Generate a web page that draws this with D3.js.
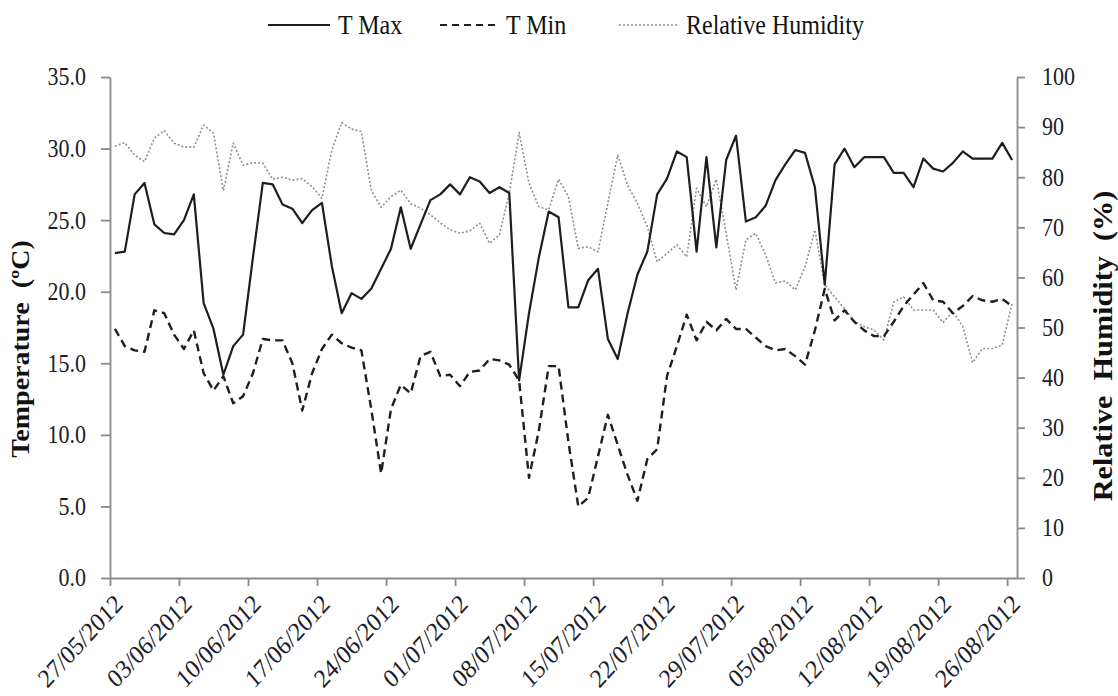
<!DOCTYPE html>
<html>
<head>
<meta charset="utf-8">
<script src="https://cdn.jsdelivr.net/npm/d3@7"></script>
<style>
  html, body { margin: 0; padding: 0; background: #fff; }
  svg text { font-family: "Liberation Serif", "Times New Roman", serif; white-space: pre; }
</style>
</head>
<body>
<svg id="chart" width="1118" height="696"></svg>
<script>
// Daily weather record, 27/05/2012 – 26/08/2012
const startDate = "2012-05-27";
const dayCount = 92;

const tMax = [
  22.7, 22.8, 26.8, 27.6, 24.7, 24.1, 24.0, 25.0, 26.8, 19.2,
  17.4, 14.2, 16.2, 17.0, 22.4, 27.6, 27.5, 26.1, 25.8, 24.8,
  25.7, 26.2, 21.8, 18.5, 19.9, 19.5, 20.2, 21.6, 23.0, 25.9,
  23.0, 24.7, 26.4, 26.8, 27.5, 26.8, 28.0, 27.7, 26.9, 27.3,
  26.9, 13.8, 18.5, 22.4, 25.6, 25.2, 18.9, 18.9, 20.8, 21.6,
  16.7, 15.3, 18.5, 21.2, 22.8, 26.8, 27.9, 29.8, 29.4, 22.8,
  29.4, 23.1, 29.2, 30.9, 24.9, 25.2, 26.0, 27.8, 28.9, 29.9,
  29.7, 27.3, 20.5, 28.9, 30.0, 28.7, 29.4, 29.4, 29.4, 28.3,
  28.3, 27.3, 29.3, 28.6, 28.4, 29.0, 29.8, 29.3, 29.3, 29.3,
  30.4, 29.2
];

const tMin = [
  17.4, 16.2, 15.9, 15.8, 18.7, 18.5, 17.0, 16.0, 17.3, 14.3,
  13.1, 14.1, 12.2, 12.7, 14.3, 16.7, 16.6, 16.6, 15.0, 11.7,
  14.3, 16.0, 17.0, 16.4, 16.1, 15.9, 11.8, 7.3, 11.8, 13.5,
  12.9, 15.5, 15.8, 14.1, 14.2, 13.4, 14.4, 14.5, 15.3, 15.2,
  14.9, 13.8, 7.0, 10.3, 14.8, 14.8, 9.5, 5.0, 5.6, 8.5,
  11.4, 9.3, 7.2, 5.4, 8.3, 9.0, 14.1, 16.2, 18.4, 16.6,
  17.9, 17.3, 18.1, 17.4, 17.4, 16.8, 16.2, 15.9, 16.0, 15.5,
  14.9, 17.3, 20.2, 18.0, 18.7, 17.9, 17.3, 16.9, 16.9, 17.9,
  19.0, 19.8, 20.6, 19.4, 19.3, 18.5, 19.0, 19.7, 19.4, 19.3,
  19.5, 19.0
];

const humidity = [
  86.2, 86.9, 84.4, 83.1, 87.8, 89.3, 86.8, 86.0, 86.0, 90.4,
  88.8, 77.3, 86.8, 82.4, 82.9, 82.8, 79.6, 80.0, 79.4, 79.7,
  78.1, 75.8, 85.4, 90.9, 89.6, 89.1, 77.4, 74.0, 76.1, 77.4,
  74.7, 73.8, 72.5, 70.9, 69.5, 68.8, 69.3, 70.8, 66.8, 68.5,
  76.8, 88.9, 78.8, 74.1, 73.5, 79.6, 76.1, 65.8, 66.1, 65.1,
  74.8, 84.4, 78.4, 74.8, 70.1, 63.1, 64.8, 66.5, 64.1, 77.8,
  74.1, 79.6, 68.8, 57.5, 67.5, 68.8, 64.5, 58.9, 59.3, 57.5,
  62.1, 69.5, 58.5, 56.1, 53.8, 51.2, 50.2, 49.5, 47.5, 55.1,
  56.1, 53.5, 53.5, 53.5, 51.0, 53.2, 50.2, 43.0, 45.8, 45.8,
  46.5, 54.8
];

const tempTicks = [0, 5, 10, 15, 20, 25, 30, 35];
const rhTicks = [0, 10, 20, 30, 40, 50, 60, 70, 80, 90, 100];
const dateTickLabels = [
  "27/05/2012", "03/06/2012", "10/06/2012", "17/06/2012", "24/06/2012",
  "01/07/2012", "08/07/2012", "15/07/2012", "22/07/2012", "29/07/2012",
  "05/08/2012", "12/08/2012", "19/08/2012", "26/08/2012"
];
const legendLabels = ["T Max", "T Min", "Relative Humidity"];

const parse = d3.timeParse("%d/%m/%Y");
const day0 = d3.timeParse("%Y-%m-%d")(startDate);
const days = d3.range(dayCount).map(i => d3.timeDay.offset(day0, i));
const tickDates = dateTickLabels.map(parse);

const svg = d3.select("#chart");
const plotLeft = 110, plotRight = 1017, plotTop = 77, plotBottom = 578;
const axisColor = "#8a8a8a";
const textStretch = 1.12;

const x = d3.scaleTime()
  .domain([day0, d3.timeDay.offset(day0, dayCount)])
  .range([plotLeft, plotRight]);
const yT = d3.scaleLinear().domain([0, 35]).range([plotBottom, plotTop]);
const yH = d3.scaleLinear().domain([0, 100]).range([plotBottom, plotTop]);

// each day's value sits in the middle of its day slot
const xMid = i => x(d3.timeHour.offset(days[i], 12));

// axes
const gLeft = svg.append("g").attr("transform", `translate(${plotLeft},0)`)
  .call(d3.axisLeft(yT).tickValues(tempTicks).tickFormat(d3.format(".1f"))
    .tickSize(9).tickSizeOuter(0).tickPadding(15));
const gRight = svg.append("g").attr("transform", `translate(${plotRight},0)`)
  .call(d3.axisRight(yH).tickValues(rhTicks).tickFormat(d3.format("d"))
    .tickSize(8).tickSizeOuter(0).tickPadding(17));
const gBottom = svg.append("g").attr("transform", `translate(0,${plotBottom})`)
  .call(d3.axisBottom(x).tickValues(tickDates).tickFormat(d3.timeFormat("%d/%m/%Y"))
    .tickSize(8).tickSizeOuter(0).tickPadding(0));

[gLeft, gRight, gBottom].forEach(g => {
  g.select(".domain").attr("stroke", axisColor).attr("stroke-width", 1.8);
  g.selectAll(".tick line").attr("stroke", axisColor).attr("stroke-width", 1.8);
  g.selectAll(".tick text").attr("fill", "#1c1c2a").attr("font-size", 22);
});
gLeft.selectAll(".tick text").attr("transform", `scale(1,${textStretch})`);
gRight.selectAll(".tick text").attr("transform", `scale(1,${textStretch})`);
gBottom.selectAll(".tick text")
  .attr("font-size", 23.5)
  .attr("x", 0).attr("y", 0).attr("dy", "0.35em")
  .attr("text-anchor", "end")
  .attr("transform", `translate(8,21) scale(1,${textStretch}) rotate(-44)`);

// series lines
const lineT = vals => d3.line().x((d, i) => xMid(i)).y(d => yT(d))(vals);
const lineH = vals => d3.line().x((d, i) => xMid(i)).y(d => yH(d))(vals);

const series = [
  { path: lineH(humidity), stroke: "#8f8f8f", width: 1.6, dash: "2,2" },
  { path: lineT(tMin), stroke: "#1e1e1e", width: 2.4, dash: "8,5" },
  { path: lineT(tMax), stroke: "#1e1e1e", width: 2.2, dash: null }
];
series.forEach(s => {
  svg.append("path").attr("d", s.path).attr("fill", "none")
    .attr("stroke", s.stroke).attr("stroke-width", s.width)
    .attr("stroke-dasharray", s.dash).attr("stroke-linejoin", "round");
});

// legend
const legendItems = [
  { x1: 268, x2: 330, tx: 338, stroke: "#1e1e1e", width: 2.2, dash: null },
  { x1: 440, x2: 498, tx: 506, stroke: "#1e1e1e", width: 2.2, dash: "7,5" },
  { x1: 619, x2: 678, tx: 686, stroke: "#8f8f8f", width: 1.5, dash: "2,2" }
];
const legY = 25;
legendItems.forEach((it, k) => {
  svg.append("line").attr("x1", it.x1).attr("x2", it.x2)
    .attr("y1", legY).attr("y2", legY)
    .attr("stroke", it.stroke).attr("stroke-width", it.width)
    .attr("stroke-dasharray", it.dash);
  svg.append("text")
    .attr("transform", `translate(${it.tx},${legY}) scale(1,${textStretch})`)
    .attr("dy", "0.35em").attr("font-size", 24).attr("fill", "#111")
    .text(legendLabels[k]);
});

// axis titles
svg.append("text")
  .attr("transform", `translate(29,349) scale(1,${textStretch}) rotate(-90)`)
  .attr("text-anchor", "middle").attr("font-size", 25).attr("font-weight", "bold")
  .attr("fill", "#111")
  .text("Temperature  (ºC)");
svg.append("text")
  .attr("transform", `translate(1112,346) scale(1,${textStretch}) rotate(-90)`)
  .attr("text-anchor", "middle").attr("font-size", 27).attr("font-weight", "bold")
  .attr("fill", "#111")
  .text("Relative  Humidity  (%)");
</script>
</body>
</html>
